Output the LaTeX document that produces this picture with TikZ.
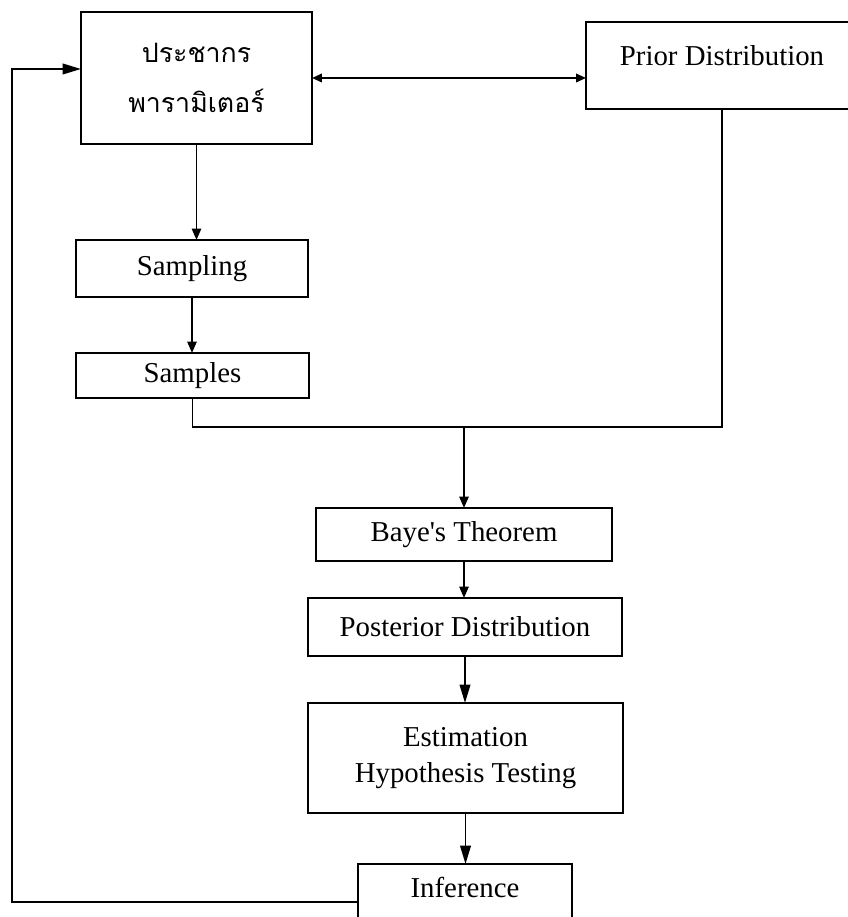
\documentclass[tikz,border=0pt]{standalone}
\usepackage{fontspec}
\setmainfont{Liberation Serif}
\newfontfamily\thaifont[Script=Thai]{Loma}
\usetikzlibrary{arrows.meta}

\begin{document}
\begin{tikzpicture}[line width=1.4pt,
  every node/.style={draw, rectangle, outer sep=0pt, inner sep=0pt, font=\fontsize{20.5}{25.5}\selectfont},
  arr/.style={-{Triangle[length=8pt,width=6.5pt]}},
  bigarr/.style={-{Triangle[length=13pt,width=7.5pt]}},
  dblarr/.style={{Triangle[length=7pt,width=6pt]}-{Triangle[length=7pt,width=6pt]}}]
\useasboundingbox (0,0) rectangle (21.2,22.925);

\node[minimum width=5.775cm, minimum height=3.3cm, align=center, font=\thaifont\fontsize{19}{36}\selectfont] (pop) at (4.9125,20.975) {ประชากร\\พารามิเตอร์};
\node[minimum width=6.8cm, minimum height=2.175cm, text height=0.5cm, text depth=0.5cm] (prior) at (18.05,21.2875) {Prior Distribution};
\node[minimum width=5.8cm, minimum height=1.425cm] (sampling) at (4.8,16.2125) {Sampling};
\node[minimum width=5.825cm, minimum height=1.125cm] (samples) at (4.8125,13.5375) {Samples};
\node[minimum width=7.4cm, minimum height=1.325cm] (bayes) at (11.6,9.5625) {Baye\textquotesingle s Theorem};
\node[minimum width=7.85cm, minimum height=1.45cm] (posterior) at (11.625,7.25) {Posterior Distribution};
\node[minimum width=7.875cm, minimum height=2.75cm, align=center] (estimation) at (11.6375,3.975) {Estimation\\Hypothesis Testing};
\node[minimum width=5.35cm, minimum height=1.9cm, text height=0.5cm, text depth=0.7cm] (inference) at (11.625,0.375) {Inference};

\coordinate (join) at (11.6,12.25);
\coordinate (loopin) at (0.3,21.2);

\draw[dblarr] (pop.east) -- (pop.east -| prior.west);
\draw[arr] (pop.south) -- (pop.south |- sampling.north);
\draw[arr] (sampling.south) -- (sampling.south |- samples.north);
\draw (samples.south) |- (join) -| (prior.south);
\draw[arr] (join) -- (bayes.north);
\draw[arr] (bayes.south) -- (bayes.south |- posterior.north);
\draw[bigarr] (posterior.south) -- (posterior.south |- estimation.north);
\draw[bigarr] (estimation.south) -- (estimation.south |- inference.north);
\draw[bigarr] (inference.west) -| (loopin) -- (loopin -| pop.west);
\end{tikzpicture}
\end{document}
